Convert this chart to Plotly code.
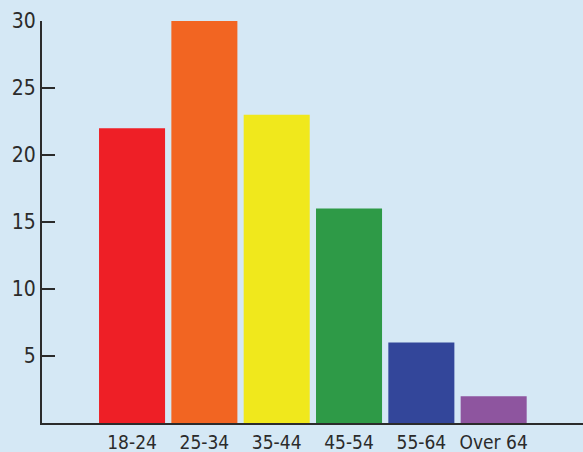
import plotly.graph_objects as go

# Age groups and their values
age_groups = ["18-24", "25-34", "35-44", "45-54", "55-64", "Over 64"]
values = [22, 30, 23, 16, 6, 2]
bar_colors = ["#ee1f26", "#f26522", "#f0e81c", "#2e9a47", "#33469a", "#8e559f"]
y_ticks = [5, 10, 15, 20, 25, 30]

bg = "#d5e8f5"
ink = "#2b2b2b"
font_family = "DejaVu Sans Condensed, Liberation Sans Narrow, Arial Narrow, sans-serif"

fig = go.Figure(
    go.Bar(
        x=list(range(len(age_groups))),
        y=values,
        marker=dict(color=bar_colors, line=dict(width=0)),
        width=0.913,
    )
)

fig.update_layout(
    width=583,
    height=452,
    margin=dict(l=42, r=0, t=21, b=29, autoexpand=False),
    paper_bgcolor=bg,
    plot_bgcolor=bg,
    showlegend=False,
    font=dict(family=font_family, size=20, color=ink),
)

fig.update_xaxes(
    range=[-1.245, 6.235],
    tickmode="array",
    tickvals=list(range(len(age_groups))),
    ticktext=age_groups,
    showgrid=False,
    zeroline=False,
    showline=True,
    linecolor=ink,
    linewidth=2,
    ticks="",
    automargin=False,
    ticklabelstandoff=1,
    tickfont=dict(family=font_family, size=19, color=ink),
)

fig.update_yaxes(
    range=[0, 30],
    tickmode="array",
    tickvals=y_ticks,
    showgrid=False,
    zeroline=False,
    showline=True,
    linecolor=ink,
    linewidth=2,
    ticks="inside",
    ticklen=13,
    tickwidth=2,
    tickcolor=ink,
    automargin=False,
    tickfont=dict(family=font_family, size=21, color=ink),
)

fig.write_html("out.html")
